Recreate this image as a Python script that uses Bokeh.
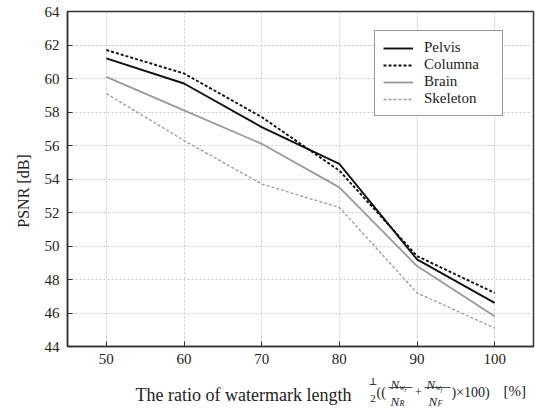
from bokeh.plotting import figure
from bokeh.models import FixedTicker, Legend, LegendItem, Range1d
from bokeh.layouts import column
from bokeh.core.properties import value
from bokeh.embed import file_html
from bokeh.resources import INLINE

ratio = [50, 60, 70, 80, 90, 100]
pelvis = [61.2, 59.7, 57.1, 54.9, 49.2, 46.6]
columna = [61.7, 60.3, 57.7, 54.5, 49.4, 47.2]
brain = [60.1, 58.1, 56.1, 53.5, 48.8, 45.8]
skeleton = [59.1, 56.3, 53.7, 52.3, 47.2, 45.1]
series_names = ["Pelvis", "Columna", "Brain", "Skeleton"]
x_ticks = [50, 60, 70, 80, 90, 100]
y_ticks = [44, 46, 48, 50, 52, 54, 56, 58, 60, 62, 64]
y_label = "PSNR [dB]"
x_label_text = "The ratio of watermark length"

FONT = "'Liberation Serif', serif"
DARK = "#222222"
W = 535
LEFT, RIGHT = 67, 2

p = figure(width=W, height=371, output_backend="svg", toolbar_location=None,
           x_range=Range1d(45, 105), y_range=Range1d(44, 64),
           min_border_left=LEFT, min_border_right=RIGHT, min_border_top=11,
           min_border_bottom=25)
p.background_fill_color = "white"
p.border_fill_color = "white"
p.outline_line_color = "#333333"
p.outline_line_width = 1.5

for ax in (p.xaxis[0], p.yaxis[0]):
    ax.axis_line_color = "#333333"
    ax.axis_line_width = 1.5
    ax.major_tick_in = 5
    ax.major_tick_out = 0
    ax.minor_tick_in = 0
    ax.minor_tick_out = 0
    ax.major_tick_line_color = "#333333"
    ax.major_label_text_font = FONT
    ax.major_label_text_font_size = "15px"
    ax.major_label_text_color = DARK
p.xaxis.ticker = FixedTicker(ticks=x_ticks)
p.yaxis.ticker = FixedTicker(ticks=y_ticks)
p.xaxis.major_label_standoff = 7
p.yaxis.major_label_standoff = 8
p.yaxis.axis_label = y_label + "\u00a0" * 6
p.yaxis.axis_label_text_font = FONT
p.yaxis.axis_label_text_font_size = "16px"
p.yaxis.axis_label_text_font_style = "normal"
p.yaxis.axis_label_text_color = DARK
p.yaxis.axis_label_standoff = 10

p.grid.grid_line_color = "#c8c8c8"
p.grid.grid_line_dash = "2 2"
p.grid.grid_line_width = 1

r1 = p.line(ratio, pelvis, line_color="#111111", line_width=1.9)
r2 = p.line(ratio, columna, line_color="#111111", line_width=1.9, line_dash="3 2")
r3 = p.line(ratio, brain, line_color="#9a9a9a", line_width=1.8)
r4 = p.line(ratio, skeleton, line_color="#9a9a9a", line_width=1.3, line_dash="3 2")

legend = Legend(items=[LegendItem(label=n, renderers=[r]) for n, r in
                       zip(series_names, [r1, r2, r3, r4])],
                location=(307, 230), margin=0, padding=8, spacing=0,
                glyph_width=30, glyph_height=16, label_height=16,
                label_width=70, label_standoff=11,
                label_text_font=FONT, label_text_font_size="15px",
                label_text_color=DARK,
                border_line_color="#333333", border_line_width=1.5,
                background_fill_color="white", background_fill_alpha=1)
p.add_layout(legend, "center")

# second panel: x-axis title with the formula; x in page pixels, y in pixels from panel top
H2 = 37
q = figure(width=W, height=H2, output_backend="svg", toolbar_location=None,
           x_range=Range1d(LEFT, W - RIGHT), y_range=Range1d(H2, 0),
           min_border_left=LEFT, min_border_right=RIGHT, min_border_top=0,
           min_border_bottom=0, x_axis_type=None, y_axis_type=None)
q.grid.visible = False
q.outline_line_color = None
q.background_fill_color = "white"
q.border_fill_color = "white"


def t(text, x, y, size, style="normal", align="left"):
    q.text(x=[x], y=[y], text=[text], text_font=value(FONT),
           text_font_size=value(size), text_font_style=value(style),
           text_color=DARK, text_align=align, text_baseline="alphabetic")


def bar(x0, x1, y):
    q.segment(x0=[x0], y0=[y], x1=[x1], y1=[y], line_color=DARK, line_width=0.8)


t(x_label_text, 135, 23, "18px")
t("1", 372.5, 10, "11px", align="center")
t("2", 372.5, 27, "11px", align="center")
bar(369, 376, 13)
t("((", 376, 21, "14px")
# first fraction
t("N", 390, 13, "13px", "italic")
t("w", 399, 16, "8px", "italic")
t("r", 404, 18, "6px", "italic")
bar(388, 412, 16)
t("N", 390, 30, "13px", "italic")
t("R", 399, 32, "8px", "italic")
t("+", 418, 20, "12px", align="center")
# second fraction
t("N", 426, 13, "13px", "italic")
t("w", 435, 16, "8px", "italic")
t("f", 440, 18, "6px", "italic")
bar(424, 450, 16)
t("N", 428, 30, "13px", "italic")
t("F", 437, 32, "8px", "italic")
t(")\u00d7100)", 451, 21, "14px")
t("[%]", 503, 19, "15px")

layout = column(p, q, spacing=0)
open("out.html", "w").write(file_html(layout, INLINE))
